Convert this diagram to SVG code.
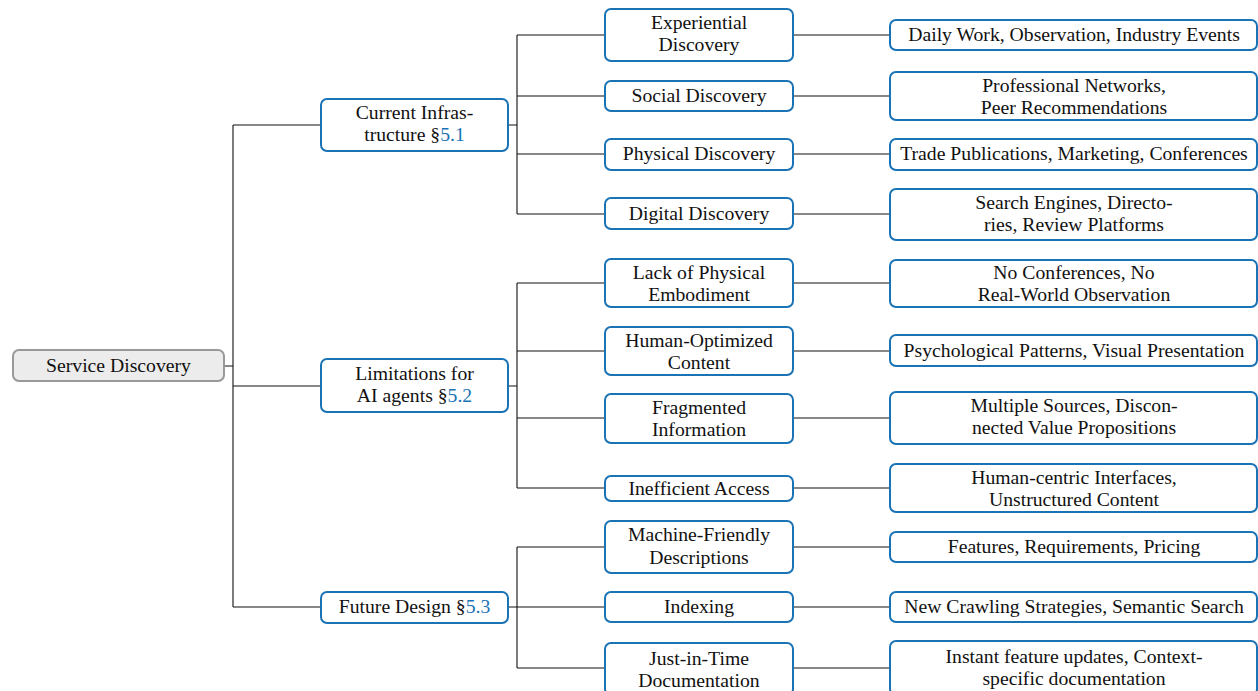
<svg xmlns="http://www.w3.org/2000/svg" width="1258" height="691" viewBox="0 0 1258 691">
<style>
.t{font-family:'Liberation Serif',serif;font-size:19.7px;fill:#111;text-anchor:middle}
.b{fill:#fff;stroke:#1a73b5;stroke-width:2}
.r{fill:#ececec;stroke:#999;stroke-width:2}
.l{fill:none;stroke:#111;stroke-width:1.1}
.ref{fill:#1a73b5}
</style>
<rect width="1258" height="691" fill="#fff"/>
<g id="connectors">
<path class="l" d="M224 366H233M233 125V607M233 125H321M233 386H321M233 607H321"/>
<path class="l" d="M508 125H517M517 35V214M517 35H605M517 96H605M517 154H605M517 214H605"/>
<path class="l" d="M508 386H517M517 283V488M517 283H605M517 351H605M517 418H605M517 488H605"/>
<path class="l" d="M508 607H517M517 547V668M517 547H605M517 607H605M517 668H605"/>
<path class="l" d="M793 35H890M793 96H890M793 154H890M793 214H890M793 283H890M793 351H890M793 418H890M793 488H890M793 547H890M793 607H890M793 668H890"/>
</g>
<g id="root"><rect class="r" x="13" y="350" width="211" height="31" rx="6"/><text class="t" x="118.5" y="372">Service Discovery</text></g>
<g id="current"><rect class="b" x="321" y="99" width="187" height="52" rx="6"/><text class="t" x="414.5" y="119">Current Infras-</text><text class="t" x="414.5" y="141">tructure §<tspan class="ref">5.1</tspan></text></g>
<g id="limitations"><rect class="b" x="321" y="359" width="187" height="53" rx="6"/><text class="t" x="414.5" y="380">Limitations for</text><text class="t" x="414.5" y="402">AI agents §<tspan class="ref">5.2</tspan></text></g>
<g id="future"><rect class="b" x="321" y="592" width="187" height="31" rx="6"/><text class="t" x="414.5" y="613">Future Design §<tspan class="ref">5.3</tspan></text></g>

<g id="experiential"><rect class="b" x="605" y="9" width="188" height="52" rx="6"/><text class="t" x="699" y="29">Experiential</text><text class="t" x="699" y="51">Discovery</text></g>
<g id="social"><rect class="b" x="605" y="81" width="188" height="30" rx="6"/><text class="t" x="699" y="102">Social Discovery</text></g>
<g id="physical"><rect class="b" x="605" y="139" width="188" height="31" rx="6"/><text class="t" x="699" y="160">Physical Discovery</text></g>
<g id="digital"><rect class="b" x="605" y="198" width="188" height="31" rx="6"/><text class="t" x="699" y="220">Digital Discovery</text></g>
<g id="lack"><rect class="b" x="605" y="259" width="188" height="48" rx="6"/><text class="t" x="699" y="279">Lack of Physical</text><text class="t" x="699" y="301">Embodiment</text></g>
<g id="human"><rect class="b" x="605" y="327" width="188" height="48" rx="6"/><text class="t" x="699" y="347">Human-Optimized</text><text class="t" x="699" y="369">Content</text></g>
<g id="fragmented"><rect class="b" x="605" y="394" width="188" height="49" rx="6"/><text class="t" x="699" y="414">Fragmented</text><text class="t" x="699" y="436">Information</text></g>
<g id="inefficient"><rect class="b" x="605" y="476" width="188" height="25" rx="6"/><text class="t" x="699" y="495">Inefficient Access</text></g>
<g id="machine"><rect class="b" x="605" y="521" width="188" height="52" rx="6"/><text class="t" x="699" y="541">Machine-Friendly</text><text class="t" x="699" y="564">Descriptions</text></g>
<g id="indexing"><rect class="b" x="605" y="592" width="188" height="30" rx="6"/><text class="t" x="699" y="613">Indexing</text></g>
<g id="jit"><rect class="b" x="605" y="643" width="188" height="52" rx="6"/><text class="t" x="699" y="665">Just-in-Time</text><text class="t" x="699" y="687">Documentation</text></g>

<g id="daily"><rect class="b" x="890" y="20" width="367" height="30" rx="6"/><text class="t" x="1074" y="41">Daily Work, Observation, Industry Events</text></g>
<g id="professional"><rect class="b" x="890" y="72" width="367" height="48" rx="6"/><text class="t" x="1074" y="92">Professional Networks,</text><text class="t" x="1074" y="114">Peer Recommendations</text></g>
<g id="trade"><rect class="b" x="890" y="139" width="367" height="31" rx="6"/><text class="t" x="1074" y="160">Trade Publications, Marketing, Conferences</text></g>
<g id="search"><rect class="b" x="890" y="189" width="367" height="51" rx="6"/><text class="t" x="1074" y="209">Search Engines, Directo-</text><text class="t" x="1074" y="231">ries, Review Platforms</text></g>
<g id="noconf"><rect class="b" x="890" y="260" width="367" height="47" rx="6"/><text class="t" x="1074" y="279">No Conferences, No</text><text class="t" x="1074" y="301">Real-World Observation</text></g>
<g id="psych"><rect class="b" x="890" y="335" width="367" height="31" rx="6"/><text class="t" x="1074" y="357">Psychological Patterns, Visual Presentation</text></g>
<g id="multiple"><rect class="b" x="890" y="392" width="367" height="52" rx="6"/><text class="t" x="1074" y="412">Multiple Sources, Discon-</text><text class="t" x="1074" y="434">nected Value Propositions</text></g>
<g id="humancentric"><rect class="b" x="890" y="464" width="367" height="48" rx="6"/><text class="t" x="1074" y="484">Human-centric Interfaces,</text><text class="t" x="1074" y="506">Unstructured Content</text></g>
<g id="features"><rect class="b" x="890" y="532" width="367" height="30" rx="6"/><text class="t" x="1074" y="553">Features, Requirements, Pricing</text></g>
<g id="crawling"><rect class="b" x="890" y="592" width="367" height="30" rx="6"/><text class="t" x="1074" y="613">New Crawling Strategies, Semantic Search</text></g>
<g id="instant"><rect class="b" x="890" y="641" width="367" height="54" rx="6"/><text class="t" x="1074" y="663">Instant feature updates, Context-</text><text class="t" x="1074" y="685">specific documentation</text></g>
</svg>
